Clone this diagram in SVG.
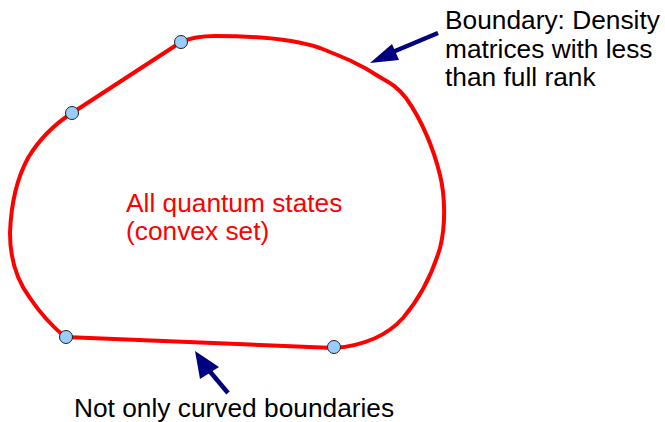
<svg xmlns="http://www.w3.org/2000/svg" width="665" height="422" viewBox="0 0 665 422">
<style>
.boundary{fill:none;stroke:#ff0000;stroke-width:4;stroke-linejoin:round}
.pt{fill:#99ccff;stroke:#222;stroke-width:1}
.arr{stroke:#000080;stroke-width:4.5;fill:none}
.head{fill:#000080}
.lbl{font-family:"Liberation Sans",Arial,sans-serif;font-size:26.3px;fill:#000}
.red{fill:#ff0000}
</style>
<rect width="665" height="422" fill="#fff"/>
<g id="set">
<path class="boundary" d="M181,42 L72,113 C58,122 40,138 28,158 C16,180 11,205 10,233 C10,260 18,282 30,298 C40,313 52,326 65,337 L334,348 C360,346 385,338 403,318 C420,298 432,275 440,248 C446,225 445,195 440,175 C434,150 422,120 406,98 C396,85 388,82 378,76 C360,64 345,58 320,48 C290,38 250,36 215,36 C198,36 190,38 181,42 Z"/>
<text class="lbl red" x="126" y="212">All quantum states</text>
<text class="lbl red" x="126" y="240">(convex set)</text>
</g>
<g id="points">
<circle class="pt" cx="181" cy="42" r="6.5"/>
<circle class="pt" cx="72" cy="113" r="6.5"/>
<circle class="pt" cx="66" cy="337" r="6.5"/>
<circle class="pt" cx="334" cy="347" r="6.5"/>
</g>
<g id="label-boundary">
<text class="lbl" x="445" y="29">Boundary: Density</text>
<text class="lbl" x="445" y="57.5">matrices with less</text>
<text class="lbl" x="445" y="86">than full rank</text>
</g>
<g id="label-notcurved">
<text class="lbl" x="74" y="417">Not only curved boundaries</text>
</g>
<g id="connectors">
<line class="arr" x1="438" y1="33" x2="388" y2="54"/>
<polygon class="head" points="370,63 392,44 399,60"/>
<line class="arr" x1="228" y1="393" x2="207" y2="368"/>
<polygon class="head" points="195,351 219,367 200,379"/>
</g>
</svg>
